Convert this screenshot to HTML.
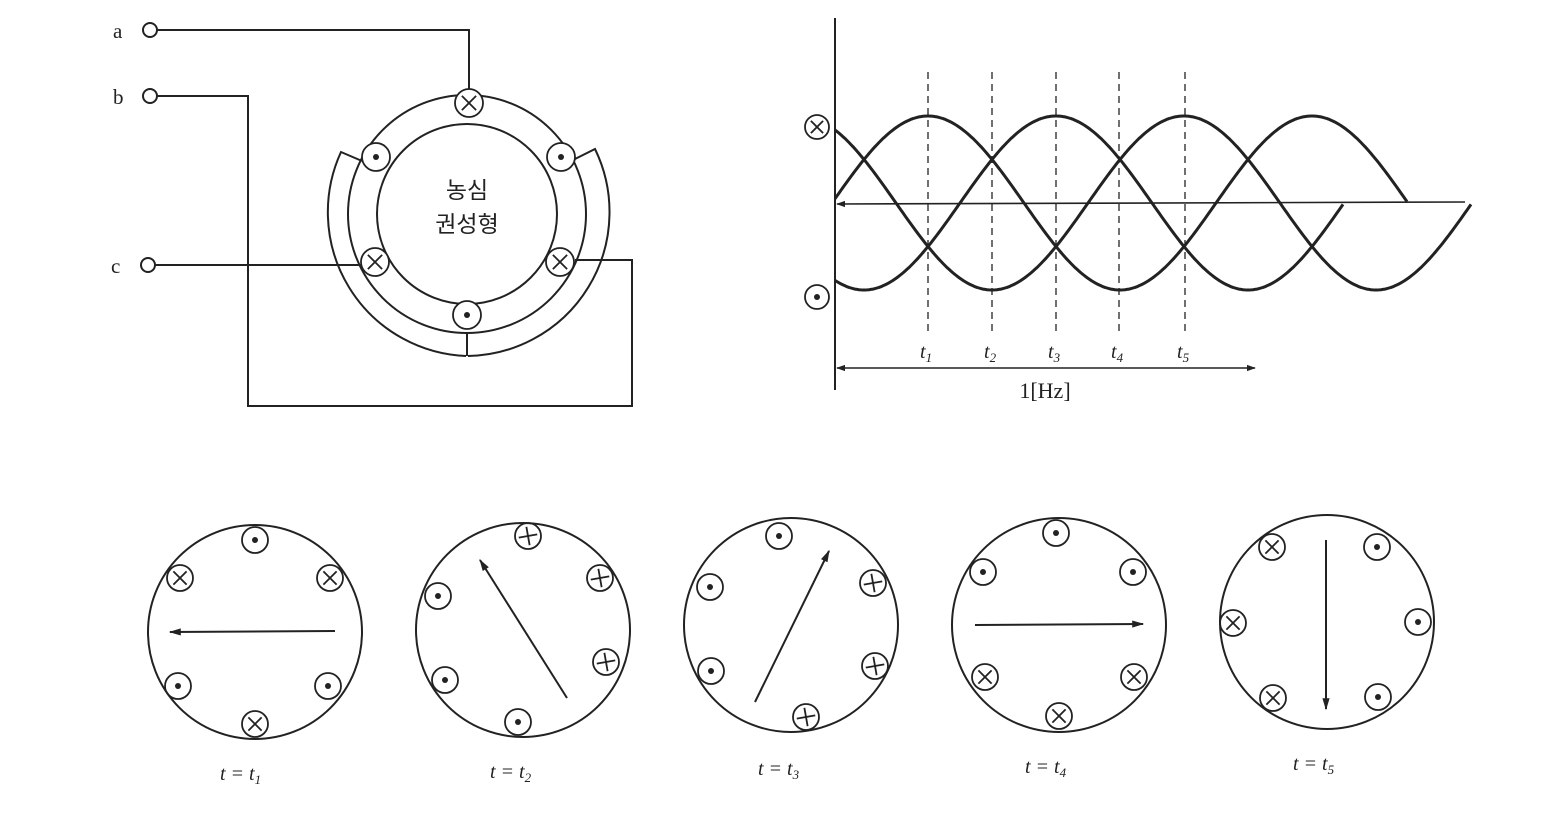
<!DOCTYPE html>
<html><head><meta charset="utf-8"><style>
body{margin:0;background:#fff}
svg{display:block}
text{font-family:"Liberation Serif",serif;fill:#222}
</style></head><body>
<svg id="s" width="1568" height="817" viewBox="0 0 1568 817" xmlns="http://www.w3.org/2000/svg" fill="none" stroke="#222" stroke-width="2">
<defs>
<marker id="ah" viewBox="0 0 10 10" refX="9" refY="5" markerWidth="9" markerHeight="9" orient="auto-start-reverse" markerUnits="userSpaceOnUse"><path d="M0,1.5 L10,5 L0,8.5 z" fill="#222" stroke="none"/></marker>
<marker id="ah2" viewBox="0 0 10 10" refX="9" refY="5" markerWidth="14" markerHeight="12" orient="auto-start-reverse" markerUnits="userSpaceOnUse"><path d="M0,2 L10,5 L0,8 z" fill="#222" stroke="none"/></marker>
</defs>
<!-- motor -->
<g stroke-width="2">
<circle cx="467" cy="214" r="90"/>
<circle cx="467" cy="214" r="119"/>
<path d="M362,161 L341,152 A144,144 0 0 0 466,356"/>
<path d="M575,159 L595,149 A144,144 0 0 1 468,356"/>
<line x1="467" y1="333" x2="467" y2="356"/>
<circle cx="150" cy="30" r="7"/><circle cx="150" cy="96" r="7"/><circle cx="148" cy="265" r="7"/>
<polyline points="157,30 469,30 469,89"/>
<polyline points="157,96 248,96 248,406 632,406 632,260 575,260"/>
<line x1="155" y1="265" x2="362" y2="265"/>
</g>
<text x="113" y="38" font-size="21" stroke="none">a</text>
<text x="113" y="104" font-size="21" stroke="none">b</text>
<text x="111" y="273" font-size="21" stroke="none">c</text>
<text x="467" y="198" font-size="23" text-anchor="middle" stroke="none" style="font-family:'Liberation Sans','Noto Sans CJK KR',sans-serif">농심</text>
<text x="467" y="232" font-size="23" text-anchor="middle" stroke="none" style="font-family:'Liberation Sans','Noto Sans CJK KR',sans-serif">권성형</text>
<!-- graph -->
<line x1="835" y1="18" x2="835" y2="390"/>
<line x1="1465" y1="202" x2="837" y2="204" stroke-width="1.6" marker-end="url(#ah)"/>
<line x1="837" y1="368" x2="1255" y2="368" stroke-width="1.6" marker-start="url(#ah)" marker-end="url(#ah)"/>
<g stroke-dasharray="7,5" stroke-width="1.3">
<line x1="928" y1="72" x2="928" y2="335"/><line x1="992" y1="72" x2="992" y2="335"/><line x1="1056" y1="72" x2="1056" y2="335"/><line x1="1119" y1="72" x2="1119" y2="335"/><line x1="1185" y1="72" x2="1185" y2="335"/>
</g>
<g id="curves" stroke-width="3"></g>
<g font-size="20" font-style="italic" stroke="none">
<text x="920" y="358">t<tspan font-size="13" dy="4">1</tspan></text>
<text x="984" y="358">t<tspan font-size="13" dy="4">2</tspan></text>
<text x="1048" y="358">t<tspan font-size="13" dy="4">3</tspan></text>
<text x="1111" y="358">t<tspan font-size="13" dy="4">4</tspan></text>
<text x="1177" y="358">t<tspan font-size="13" dy="4">5</tspan></text>
</g>
<text x="1045" y="398" font-size="22" text-anchor="middle" stroke="none">1[Hz]</text>
<g id="syms"></g>
<!-- bottom circles -->
<g stroke-width="2">
<circle cx="255" cy="632" r="107"/><circle cx="523" cy="630" r="107"/><circle cx="791" cy="625" r="107"/><circle cx="1059" cy="625" r="107"/><circle cx="1327" cy="622" r="107"/>
</g>
<g stroke-width="2">
<line x1="335" y1="631" x2="170" y2="632" marker-end="url(#ah2)"/>
<line x1="567" y1="698" x2="480" y2="560" marker-end="url(#ah2)"/>
<line x1="755" y1="702" x2="829" y2="551" marker-end="url(#ah2)"/>
<line x1="975" y1="625" x2="1143" y2="624" marker-end="url(#ah2)"/>
<line x1="1326" y1="540" x2="1326" y2="709" marker-end="url(#ah2)"/>
</g>
<g font-size="20" font-style="italic" stroke="none">
<text x="220" y="780">t = t<tspan font-size="13" dy="4">1</tspan></text>
<text x="490" y="778">t = t<tspan font-size="13" dy="4">2</tspan></text>
<text x="758" y="775">t = t<tspan font-size="13" dy="4">3</tspan></text>
<text x="1025" y="773">t = t<tspan font-size="13" dy="4">4</tspan></text>
<text x="1293" y="770">t = t<tspan font-size="13" dy="4">5</tspan></text>
</g>
</svg>
<script>
var NS="http://www.w3.org/2000/svg";
function el(p,t,a){var e=document.createElementNS(NS,t);for(var k in a)e.setAttribute(k,a[k]);p.appendChild(e);return e;}
var cg=document.getElementById("curves");
[[928,1408],[1056,1344],[1184,1472]].forEach(function(c){
 var d="";for(var x=835;x<=c[1];x+=2){var y=203-87*Math.cos((x-c[0])/384*2*Math.PI);d+=(d?"L":"M")+x+","+y.toFixed(1);}
 el(cg,"path",{d:d});
});
var sg=document.getElementById("syms");
function sym(x,y,t,r,rot){r=r||13;el(sg,"circle",{cx:x,cy:y,r:r,fill:"#fff","stroke-width":1.8});
 if(t=="d")el(sg,"circle",{cx:x,cy:y,r:3,fill:"#222",stroke:"none"});
 else{var a=(rot==null?45:rot)*Math.PI/180,k=r*0.72;
  for(var i=0;i<2;i++){var b=a+i*Math.PI/2;el(sg,"line",{x1:x-k*Math.cos(b),y1:y-k*Math.sin(b),x2:x+k*Math.cos(b),y2:y+k*Math.sin(b),"stroke-width":1.8});}}}
// motor
sym(469,103,"x",14);sym(376,157,"d",14);sym(561,157,"d",14);sym(375,262,"x",14);sym(560,262,"x",14);sym(467,315,"d",14);
sym(817,127,"x",12);sym(817,297,"d",12);
// circles
sym(255,540,"d");sym(180,578,"x");sym(330,578,"x");sym(178,686,"d");sym(328,686,"d");sym(255,724,"x");
sym(528,536,"x",13,-10);sym(438,596,"d");sym(600,578,"x",13,-10);sym(606,662,"x",13,-10);sym(445,680,"d");sym(518,722,"d");
sym(779,536,"d");sym(710,587,"d");sym(873,583,"x",13,-10);sym(875,666,"x",13,-10);sym(711,671,"d");sym(806,717,"x",13,-10);
sym(1056,533,"d");sym(983,572,"d");sym(1133,572,"d");sym(985,677,"x");sym(1134,677,"x");sym(1059,716,"x");
sym(1272,547,"x");sym(1377,547,"d");sym(1233,623,"x");sym(1418,622,"d");sym(1273,698,"x");sym(1378,697,"d");
</script>
</body></html>
